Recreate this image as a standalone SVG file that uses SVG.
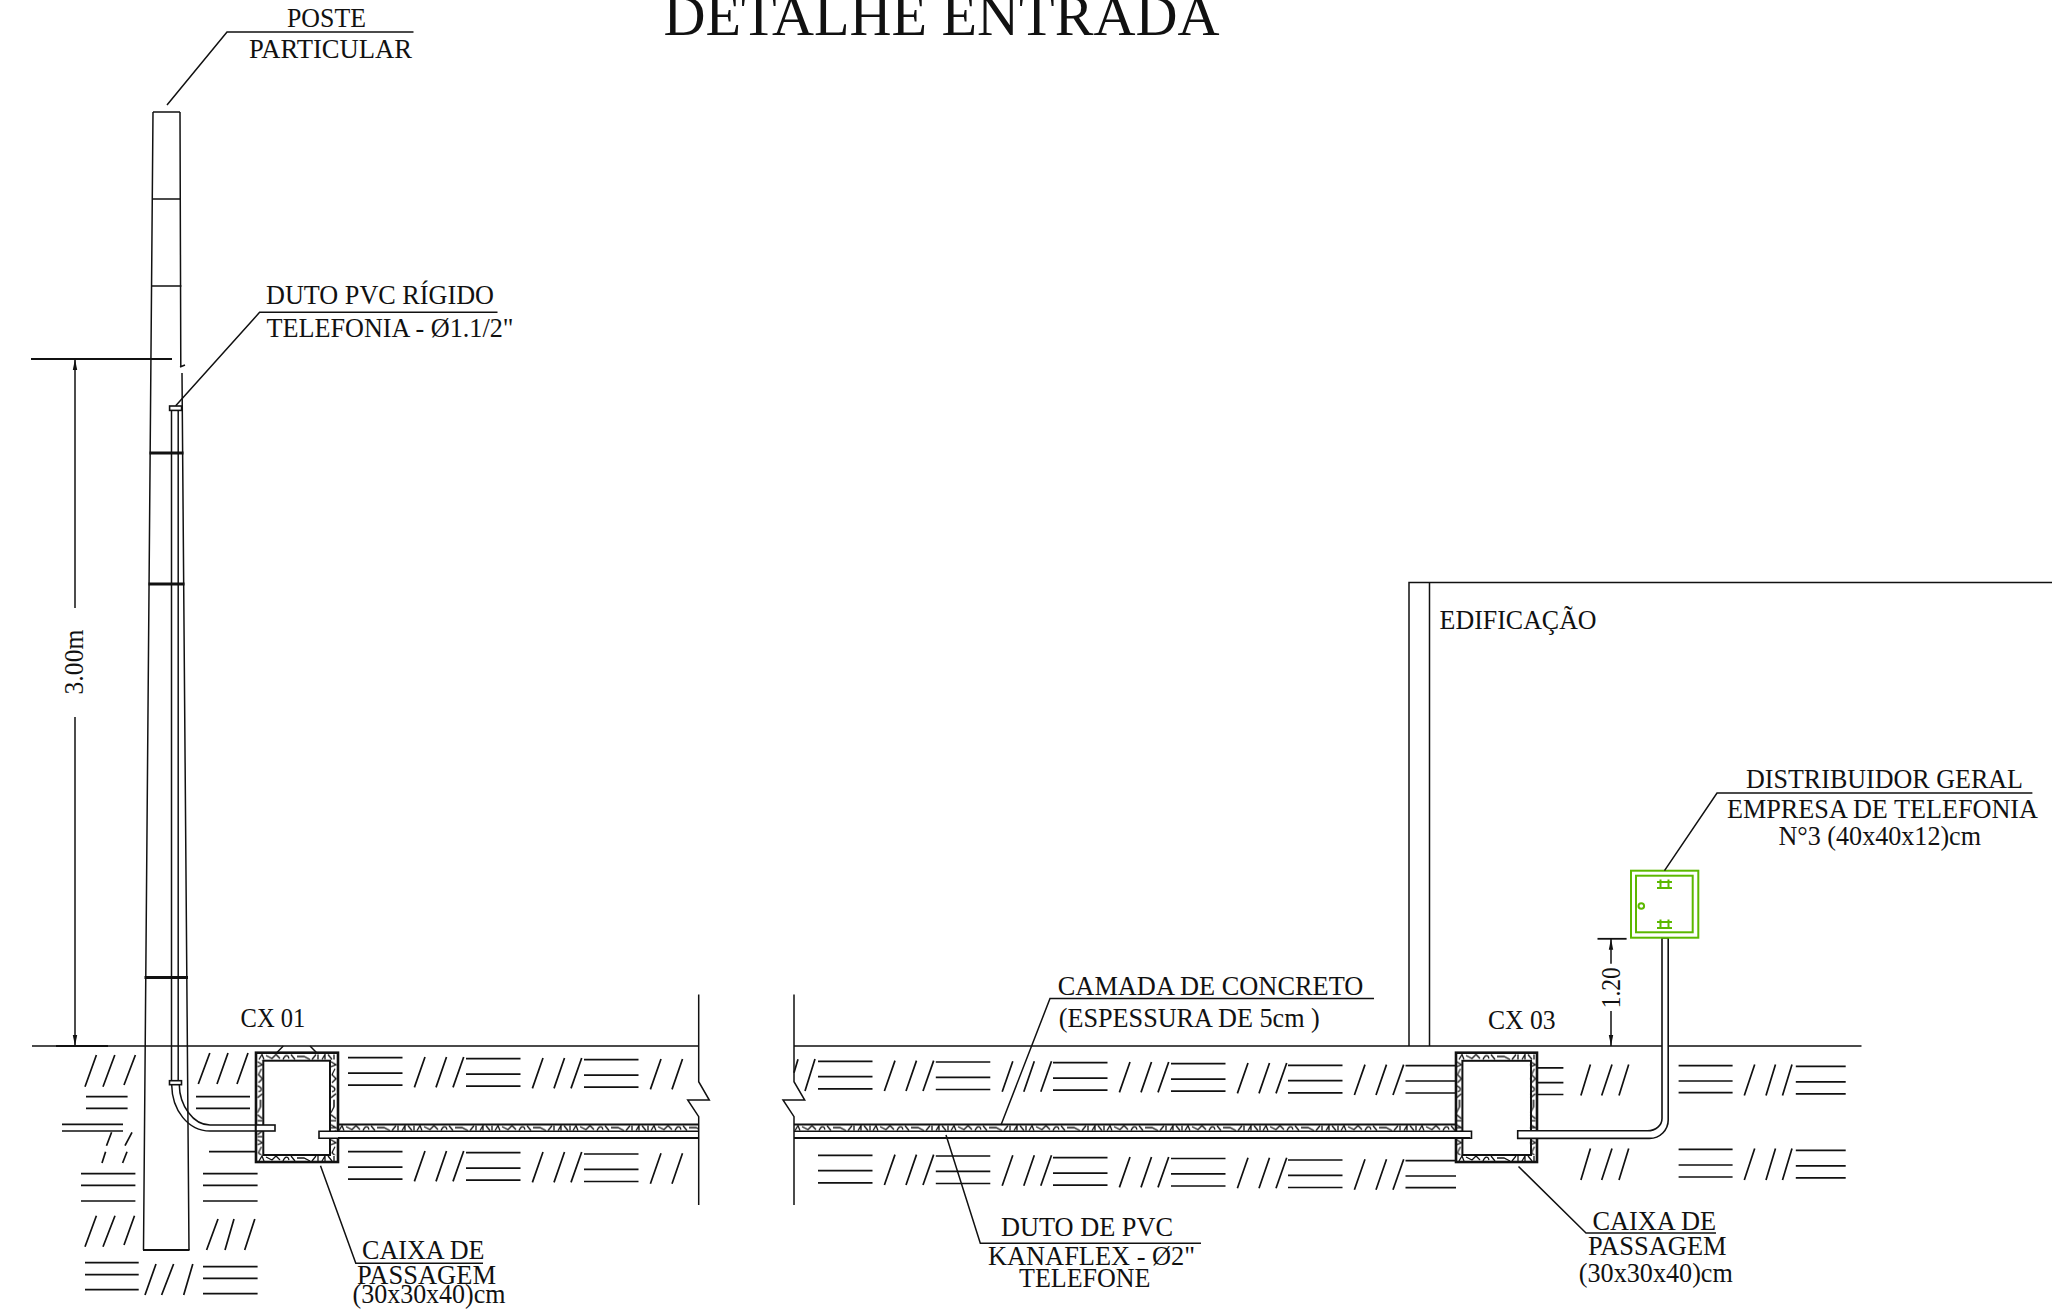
<svg xmlns="http://www.w3.org/2000/svg" width="2052" height="1311" viewBox="0 0 2052 1311">
<style>
text{font-family:"Liberation Serif","Times New Roman",serif;font-size:27px;fill:#111}
.l{fill:none;stroke:#111;stroke-width:1.5}
.th{fill:none;stroke:#111;stroke-width:2.2}
.w{fill:#fff;stroke:#111;stroke-width:1.6}
.g{fill:none;stroke:#5cb800;stroke-width:2}
.s{fill:none;stroke:#111;stroke-width:1.7}
</style>
<defs>
<pattern id="conc" width="78" height="7" patternUnits="userSpaceOnUse">
<path d="M1 6L4 1L6 6M8 2L14 5L18 1L22 5M25 6C27 1 30 1 31 5M33 1L37 6M39 3H46L52 6M54 6L58 1M60 6V1M64 6L67 1V6M70 1L74 6M76 1V6" fill="none" stroke="#111" stroke-width="1.3"/>
</pattern>
<marker id="arr" markerUnits="userSpaceOnUse" markerWidth="12" markerHeight="6" refX="11" refY="3" orient="auto-start-reverse"><path d="M0 .8L11 3L0 5.2Z" fill="#111"/></marker>
<g id="lines"><path class="s" d="M0 0H54.5M0 15.4H54.5M0 27.5H54.5"/></g>
<g id="sl2"><path class="s" d="M66.4 29.7L77 -.7M88 29.7L98.5 -.7"/></g>
<g id="unit"><use href="#lines"/><use href="#sl2"/><path class="s" d="M105 29.7L115.7 -.7"/></g>
</defs>
<rect width="2052" height="1311" fill="#fff"/>

<g id="title"><text x="663.5" y="34.5" style="font-size:58px" textLength="556" lengthAdjust="spacingAndGlyphs">DETALHE ENTRADA</text></g>

<g id="ground">
<path class="l" d="M32 1046H698.7M794 1046H1861.5"/>
<path class="th" d="M56 1046H108"/>
</g>

<g id="soil">
<path class="s" d="M85 1086.7L96.4 1055M103 1086.7L114.8 1055M124 1085L135.4 1055M198.3 1084L209.8 1053M217 1084L228 1053M237 1084L248 1053M86 1096.7H127.6M86 1108.3H127.6M196 1096.7H250M196 1108.3H250M62 1124.3H123M62 1131H123M106.5 1145.7L111.6 1132.3M125 1145.7L132 1132.3M102 1163L105.6 1151.7M122.6 1163L127 1151.7M209 1151.7H255M81 1173.7H135.4M81 1185.3H135.4M81 1201H135.4M203 1173.7H257.6M203 1185.3H257.6M203 1201H257.6M85 1246.7L96.4 1215.7M103 1246.7L115 1215.7M124 1245L134.5 1215.7M206.6 1250L218 1219M225 1250L234 1219M244.7 1250L254.8 1219M85 1262.7H138.7M85 1274.7H138.7M85 1289.7H138.7M145 1295L156 1264M161.6 1295L173.6 1264M183.7 1295L192.8 1264M203 1266.7H257.6M203 1278.3H257.6M203 1293.7H257.6"/>
<use href="#unit" x="348" y="1057.7"/><use href="#unit" x="466" y="1058.7"/><use href="#lines" x="584" y="1059.7"/><use href="#sl2" x="584" y="1059.7"/>
<use href="#unit" x="348" y="1151.7"/><use href="#unit" x="466" y="1152.7"/><use href="#lines" x="584" y="1154"/><use href="#sl2" x="584" y="1154"/>
<path class="s" d="M794 1072.7L798 1059.3M805 1091L815 1059"/>
<use href="#unit" x="818" y="1061.3"/><use href="#unit" x="935.8" y="1062"/><use href="#unit" x="1053" y="1062.7"/><use href="#unit" x="1171" y="1063.7"/><use href="#unit" x="1288" y="1065.3"/>
<use href="#unit" x="818" y="1155.3"/><use href="#unit" x="935.8" y="1156"/><use href="#unit" x="1053" y="1157.7"/><use href="#unit" x="1171" y="1158.5"/><use href="#unit" x="1288" y="1160"/>
<path class="s" d="M1405.5 1065.7H1456M1405.5 1081H1456M1405.5 1093H1456M1405.5 1160.6H1456M1405.5 1176H1456M1405.5 1187.6H1456"/>
<path class="s" d="M1538 1067.8H1563.4M1538 1082.6H1563.4M1538 1094.5H1563.4M1580.9 1095.6L1590.4 1064.6M1601.7 1095.6L1612 1064.6M1619 1095.6L1628.7 1064.6M1678.6 1065.7H1732.6M1678.6 1081H1732.6M1678.6 1092.7H1732.6M1744.3 1095.6L1754.7 1064.6M1766 1095.6L1775.5 1064.6M1782.5 1095.6L1792 1064.6M1795.8 1066.4H1845.7M1795.8 1081.9H1845.7M1795.8 1093.8H1845.7M1580.9 1180L1590.4 1148.6M1601.7 1180L1612 1148.6M1619 1180L1628.7 1148.6M1678.6 1149.3H1732.6M1678.6 1165H1732.6M1678.6 1177H1732.6M1744.3 1180L1754.7 1148.6M1766 1180L1775.5 1148.6M1782.5 1180L1792 1148.6M1795.8 1150.4H1845.7M1795.8 1165.8H1845.7M1795.8 1177.8H1845.7"/>
</g>

<g id="poste">
<path class="l" d="M153 112H180M153 112L143.5 1250M180 112L180.8 367M180 367L185 365M182 373L189 1250M152.2 199H180.7M151.5 286H181.6"/>
<path class="th" d="M143 1250H189.5"/>
<path class="th" style="stroke-width:3" d="M149.5 453H183.5M148.5 584H184.5M144.5 977.5H188"/>
</g>

<g id="duto-poste">
<path class="l" d="M171.5 410V1081M178.2 410V1081"/>
<rect class="w" x="169.6" y="406" width="12" height="4.4"/>
<rect class="w" x="169.5" y="1080.7" width="12" height="4"/>
<path class="l" d="M171.7 1085C172 1110 188 1131 210 1131H275V1125H210C193 1125 179.5 1105 179.3 1085"/>
</g>

<g id="cx01">
<path class="l" d="M276.7 1052.7L283.3 1046M310 1046L316.7 1052.7"/>
<rect x="256" y="1052.7" width="82" height="109.3" fill="#fff"/>
<rect transform="translate(258 1053.5)" width="78" height="7" fill="url(#conc)"/>
<rect transform="translate(258 1155)" width="78" height="7" fill="url(#conc)"/>
<rect transform="translate(263.5 1060.7) rotate(90)" width="94.5" height="7" fill="url(#conc)"/>
<rect transform="translate(337 1060.7) rotate(90)" width="94.5" height="7" fill="url(#conc)"/>
<rect x="256" y="1052.7" width="82" height="109.3" fill="none" stroke="#111" stroke-width="2.6"/>
<rect x="263.3" y="1060.7" width="66.7" height="94.3" fill="none" stroke="#111" stroke-width="2"/>
<rect class="w" x="256" y="1125" width="19" height="6"/>
</g>

<g id="cx03">
<rect x="1456" y="1052.7" width="81" height="109.3" fill="#fff"/>
<rect transform="translate(1458 1053.5)" width="77" height="7" fill="url(#conc)"/>
<rect transform="translate(1458 1155)" width="77" height="7" fill="url(#conc)"/>
<rect transform="translate(1462.5 1060.7) rotate(90)" width="94.5" height="7" fill="url(#conc)"/>
<rect transform="translate(1536.5 1060.7) rotate(90)" width="94.5" height="7" fill="url(#conc)"/>
<rect x="1456" y="1052.7" width="81" height="109.3" fill="none" stroke="#111" stroke-width="2.6"/>
<rect x="1462.4" y="1060.8" width="68.6" height="94.2" fill="none" stroke="#111" stroke-width="2"/>
</g>

<g id="duto-kanaflex">
<rect transform="translate(338 1124.6)" width="361" height="6.6" fill="url(#conc)"/>
<rect transform="translate(794 1124.6)" width="662" height="6.6" fill="url(#conc)"/>
<path class="th" d="M338 1124.5H698.7M794 1124.5H1456"/>
<path class="w" d="M698.7 1131.3H319V1138.3H698.7"/>
<path class="w" d="M794 1131.3H1471.5V1138.3H794"/>
<path class="th" d="M338 1138H698.7M794 1138H1470"/>
</g>

<g id="duto-dg">
<path d="M1517.7 1130.7H1647.4C1656 1130.7 1662 1125 1662 1118.4V938H1668.2V1120C1668.2 1130 1660 1138.4 1649.5 1138.4H1517.7Z" fill="#fff" stroke="#111" stroke-width="1.6"/>
</g>

<g id="corte">
<path class="l" d="M698.7 994.6V1081.7L709.3 1100H687.7L698.7 1116.7V1205M794 994.6V1081.7L804.7 1100H783L794 1116.7V1205"/>
</g>

<g id="edificacao">
<path class="l" d="M1409 1046V582.4H2052M1429.5 582.4V1046"/>
<text x="1439.6" y="629" textLength="157" lengthAdjust="spacingAndGlyphs">EDIFICAÇÃO</text>
</g>

<g id="distribuidor-geral">
<rect class="g" x="1631" y="870.7" width="67.3" height="67"/>
<rect class="g" x="1636" y="875.7" width="56.7" height="56.6"/>
<circle class="g" cx="1641.3" cy="906" r="2.8"/>
<path class="g" d="M1657 882H1672M1657 888H1672M1660.5 879.5V888M1668.5 879.5V888M1657 922H1672M1657 928H1672M1660.5 919.5V928M1668.5 919.5V928"/>
</g>

<g id="connectors">
<path class="l" d="M167 105L227 32H413.5"/>
<path class="l" d="M175.7 405.7L259.6 312.3H497.5"/>
<path class="l" d="M320.5 1165.7L355.8 1263.3H483"/>
<path class="l" d="M946 1135L980.3 1243.3H1201"/>
<path class="l" d="M1001 1125L1050 998.5H1374"/>
<path class="l" d="M1518.5 1166.5L1586 1233H1716"/>
<path class="l" d="M1664.5 870.7L1717 793H2032.4"/>
<path class="th" style="stroke-width:1.9" d="M31 359H172"/>
<path class="l" d="M75 608V359" marker-end="url(#arr)"/>
<path class="l" d="M75 717V1046" marker-end="url(#arr)"/>
<path class="th" style="stroke-width:1.8" d="M1597.5 938.8H1626.6"/>
<path class="l" d="M1611 963.8V938.8" marker-end="url(#arr)"/>
<path class="l" d="M1611 1011V1046" marker-end="url(#arr)"/>
</g>

<g id="labels">
<text x="287" y="27" textLength="79" lengthAdjust="spacingAndGlyphs">POSTE</text>
<text x="249" y="58" textLength="163" lengthAdjust="spacingAndGlyphs">PARTICULAR</text>
<text x="266" y="304" textLength="228" lengthAdjust="spacingAndGlyphs">DUTO PVC RÍGIDO</text>
<text x="266.5" y="337.3" textLength="247" lengthAdjust="spacingAndGlyphs">TELEFONIA - Ø1.1/2"</text>
<text transform="translate(82.5 662) rotate(-90)" text-anchor="middle" textLength="65" lengthAdjust="spacingAndGlyphs">3.00m</text>
<text x="240.6" y="1026.7" textLength="64.7" lengthAdjust="spacingAndGlyphs">CX 01</text>
<text x="362" y="1259" textLength="122.4" lengthAdjust="spacingAndGlyphs">CAIXA DE</text>
<text x="357" y="1284.3" textLength="139" lengthAdjust="spacingAndGlyphs">PASSAGEM</text>
<text x="352.5" y="1303" textLength="153" lengthAdjust="spacingAndGlyphs">(30x30x40)cm</text>
<text x="1001" y="1235.7" textLength="172" lengthAdjust="spacingAndGlyphs">DUTO DE PVC</text>
<text x="988" y="1265" textLength="207" lengthAdjust="spacingAndGlyphs">KANAFLEX - Ø2"</text>
<text x="1019" y="1286.7" textLength="131.5" lengthAdjust="spacingAndGlyphs">TELEFONE</text>
<text x="1057.8" y="995" textLength="305.5" lengthAdjust="spacingAndGlyphs">CAMADA DE CONCRETO</text>
<text x="1058.8" y="1026.7" textLength="261" lengthAdjust="spacingAndGlyphs">(ESPESSURA DE 5cm )</text>
<text x="1488" y="1028.8" textLength="67.5" lengthAdjust="spacingAndGlyphs">CX 03</text>
<text x="1592.5" y="1230" textLength="123.5" lengthAdjust="spacingAndGlyphs">CAIXA DE</text>
<text x="1588" y="1255.4" textLength="138.6" lengthAdjust="spacingAndGlyphs">PASSAGEM</text>
<text x="1578.8" y="1281.8" textLength="154" lengthAdjust="spacingAndGlyphs">(30x30x40)cm</text>
<text x="1746" y="788" textLength="277" lengthAdjust="spacingAndGlyphs">DISTRIBUIDOR GERAL</text>
<text x="1727" y="818" textLength="311" lengthAdjust="spacingAndGlyphs">EMPRESA DE TELEFONIA</text>
<text x="1778.5" y="845.4" textLength="202.5" lengthAdjust="spacingAndGlyphs">N°3 (40x40x12)cm</text>
<text transform="translate(1619.5 987.7) rotate(-90)" text-anchor="middle" textLength="41" lengthAdjust="spacingAndGlyphs">1.20</text>
</g>
</svg>
